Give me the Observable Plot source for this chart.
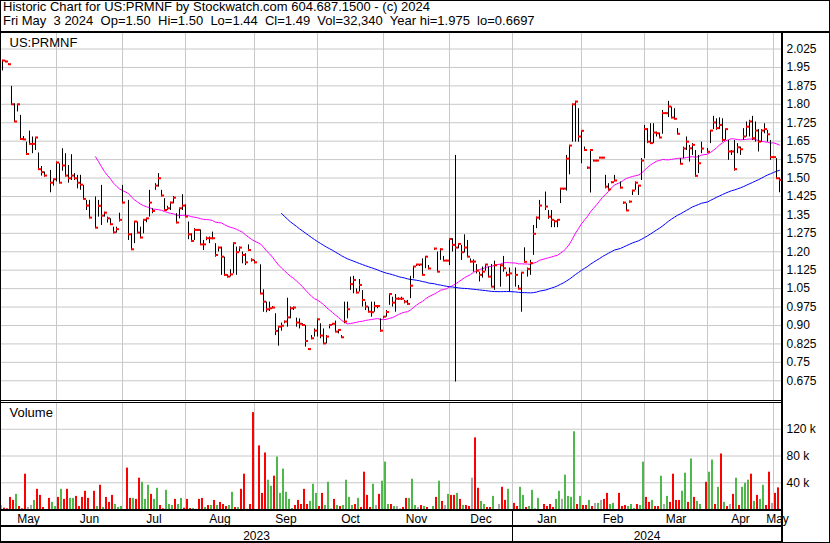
<!DOCTYPE html>
<html><head><meta charset="utf-8">
<script src="https://cdn.jsdelivr.net/npm/d3@7"></script>
<script src="https://cdn.jsdelivr.net/npm/@observablehq/plot@0.6"></script>
<style>
html,body{margin:0;padding:0;background:#fff;}
#wrap{position:relative;width:830px;height:543px;overflow:hidden;background:#fff;font-family:"Liberation Sans",Arial,sans-serif;color:#000;}
#hdr{position:absolute;left:3px;top:0px;font-size:13px;line-height:14px;white-space:pre;}
.pl{position:absolute;left:0;}
.ln{position:absolute;background:#000;}
#border{position:absolute;left:0;top:0;width:828px;height:541px;border:1px solid #000;}
</style></head><body>
<div id="wrap">
 <div id="hdr"></div>
 <div id="price" class="pl" style="top:33px"></div>
 <div id="vol" class="pl" style="top:402px"></div>
 <div class="ln" style="left:0;top:31px;width:830px;height:2px"></div>
 <div class="ln" style="left:781px;top:33px;width:2px;height:510px"></div>
 <div class="ln" style="left:0;top:400px;width:781px;height:1px"></div>
 <div class="ln" style="left:0;top:402px;width:781px;height:1px"></div>
 <div class="ln" style="left:0;top:509px;width:781px;height:2px"></div>
 <div class="ln" style="left:0;top:525px;width:781px;height:2px"></div>
 <div class="ln" style="left:0;top:541px;width:781px;height:2px"></div>
 <div id="ysep" class="ln" style="top:511px;width:1px;height:32px"></div>
 <div id="border"></div>
</div>
<script>
// ---- header texts ----
const titleLine = "Historic Chart for US:PRMNF by Stockwatch.com 604.687.1500 - (c) 2024";
const quoteLine = "Fri May  3 2024  Op=1.50  Hi=1.50  Lo=1.44  Cl=1.49  Vol=32,340  Year hi=1.975  lo=0.6697";
const symbolLabel = "US:PRMNF";
const volumeLabel = "Volume";

// ---- axis labels ----
const priceTickLabels = ["2.025","1.95","1.875","1.80","1.725","1.65","1.575","1.50","1.425","1.35","1.275","1.20","1.125","1.05","0.975","0.90","0.825","0.75","0.675"];
const volTicks = [40, 80, 120];
const monthNames = ["May","Jun","Jul","Aug","Sep","Oct","Nov","Dec","Jan","Feb","Mar","Apr","May"];
const monthStartK = [18,40,61,84,105,127,149,170,193,214,235,257]; // weekday slot of first day of each month
const yearNames = ["2023","2024"];
const yearStartK = [170];

// ---- daily bars (one slot per weekday from May 8 2023; null = no trading) ----
const hi = [
1.979,1.976,1.965,1.873,1.802,1.798,1.755,1.669,1.646,1.691,
1.667,1.664,1.602,1.547,1.524,null,1.531,1.493,1.565,1.558,
1.619,1.599,1.551,1.595,1.518,1.511,1.511,1.470,1.409,1.409,
null,1.423,1.409,1.470,1.361,1.341,1.334,1.300,1.300,1.357,
1.470,null,1.409,1.273,1.321,1.321,1.300,1.328,1.334,1.450,
1.375,1.477,1.518,1.450,1.416,1.385,1.402,1.425,1.355,1.375,
1.432,1.391,1.321,1.273,1.294,1.290,1.289,1.246,1.260,1.260,
1.280,1.233,1.219,1.219,1.178,1.106,1.127,1.235,1.219,1.219,
1.199,1.192,1.228,1.171,1.165,null,1.147,1.045,0.995,0.995,
0.977,0.948,0.893,0.910,0.918,1.011,0.975,0.975,0.930,0.927,
0.907,0.900,0.805,0.859,0.886,0.927,0.907,0.886,0.859,0.900,
0.907,0.918,0.882,0.859,0.995,0.995,1.097,1.100,1.049,1.087,
1.042,0.995,0.975,0.995,0.995,0.981,0.927,0.934,0.961,1.026,
1.015,1.026,1.012,1.015,1.002,1.002,1.100,1.140,1.148,1.148,
1.171,1.178,1.144,null,1.214,1.199,1.212,1.181,1.165,1.253,
1.253,1.592,1.233,1.226,1.269,1.246,1.171,1.167,1.148,1.117,
1.138,1.148,1.138,1.148,1.162,null,1.148,1.181,1.117,1.134,
null,1.134,1.063,1.114,1.216,1.134,1.165,1.307,1.341,1.409,
null,1.443,1.368,1.368,1.328,1.328,1.457,1.457,1.592,1.633,
1.800,1.812,1.782,1.690,1.626,1.545,1.612,1.572,1.572,1.584,
1.584,1.511,1.477,1.484,1.511,null,1.484,1.402,1.395,1.406,
1.450,1.484,1.470,1.579,1.714,1.701,1.721,1.721,1.687,1.683,
1.775,1.765,1.812,1.789,1.782,1.701,1.579,1.626,1.667,1.633,
1.640,1.612,1.592,1.646,null,1.620,1.691,1.751,1.741,1.745,
1.741,1.697,1.653,1.612,1.653,1.640,1.626,1.701,1.728,1.735,
1.751,1.728,1.697,1.697,1.721,1.694,1.653,1.586,1.579,1.500];
const lo = [
1.936,1.972,1.961,1.796,1.728,1.769,1.656,1.655,1.592,1.636,
1.599,1.612,1.531,1.508,1.504,null,1.440,1.467,1.484,1.477,
1.528,1.504,1.479,1.490,1.490,1.456,1.450,1.412,1.368,1.334,
null,1.294,1.341,1.307,1.341,1.317,1.307,1.273,1.276,1.321,
1.395,null,1.246,1.205,1.233,1.273,1.253,1.273,1.318,1.341,
1.355,1.450,1.463,1.423,1.368,1.368,1.368,1.395,1.314,1.334,
1.368,1.341,1.249,1.239,1.246,1.284,1.226,1.205,1.245,1.233,
1.249,1.178,1.199,1.104,1.100,1.094,1.097,1.110,1.104,1.199,
1.151,1.144,1.205,1.158,1.151,null,1.026,0.954,0.952,0.957,
0.968,0.859,0.816,0.877,0.907,0.893,0.927,0.961,0.893,0.886,
0.897,0.812,0.801,0.842,0.853,0.853,0.846,0.823,0.825,0.886,
0.900,0.873,0.866,0.848,0.907,0.927,1.043,1.029,1.029,1.036,
0.975,0.961,0.952,0.934,0.954,0.968,0.873,0.927,0.934,0.982,
0.975,0.954,1.003,1.002,0.988,0.982,1.009,1.090,1.140,1.140,
1.104,1.131,1.127,null,1.206,1.117,1.165,1.162,1.160,1.144,
1.199,0.670,1.212,1.165,1.195,1.178,1.155,1.117,1.110,1.077,
1.093,1.121,1.094,1.056,1.043,null,1.056,1.117,1.097,1.036,
null,1.056,1.046,0.954,1.154,1.097,1.104,1.185,1.294,1.328,
null,1.368,1.332,1.298,1.298,1.298,1.396,1.450,1.447,1.513,
1.646,1.646,1.646,1.558,1.612,1.535,1.439,1.566,1.566,1.578,
1.578,1.456,1.447,1.477,1.484,null,1.456,1.393,1.364,1.398,
1.429,1.450,1.429,1.490,1.579,1.640,1.640,1.640,1.667,1.660,
1.678,1.760,1.746,1.741,1.737,1.677,1.556,1.579,1.612,1.565,
1.592,1.504,1.518,1.599,null,1.600,1.640,1.697,1.694,1.697,
1.646,1.653,1.572,1.592,1.528,1.599,1.592,1.653,1.667,1.667,
1.653,1.646,1.606,1.646,1.680,1.646,1.572,1.579,1.497,1.440];
const cl = [
1.976,1.972,1.961,1.798,1.728,1.798,1.657,1.655,1.596,1.637,
1.637,1.663,1.534,1.522,1.508,null,1.479,1.493,1.561,1.479,
1.549,1.508,1.497,1.508,1.497,1.479,1.471,1.413,1.386,1.337,
null,1.296,1.385,1.345,1.357,1.334,1.310,1.277,1.290,1.328,
1.398,null,1.269,1.208,1.321,1.276,1.256,1.328,1.334,1.398,
1.364,1.467,1.497,1.427,1.368,1.375,1.398,1.418,1.317,1.375,
1.386,1.341,1.269,1.242,1.287,1.287,1.228,1.228,1.253,1.253,
1.253,1.185,1.215,1.178,1.104,1.097,1.106,1.233,1.196,1.215,
1.185,1.155,1.205,1.165,1.155,null,1.028,0.995,0.964,0.968,
0.971,0.876,0.893,0.897,0.914,0.931,0.968,0.971,0.910,0.905,
0.900,0.835,0.802,0.846,0.877,0.923,0.857,0.825,0.853,0.900,
0.905,0.873,0.880,0.850,0.914,0.964,1.066,1.083,1.032,1.063,
1.002,0.975,0.954,0.952,0.977,0.977,0.877,0.934,0.953,1.026,
0.991,1.007,1.007,1.007,0.995,0.986,1.060,1.138,1.146,1.146,
1.104,1.178,1.130,null,1.211,1.117,1.208,1.162,1.162,1.250,
1.226,1.215,1.230,1.196,1.215,1.178,1.158,1.158,1.121,1.104,
1.117,1.146,1.097,1.056,1.143,null,1.143,1.131,1.104,1.110,
null,1.104,1.048,1.113,1.157,1.128,1.152,1.271,1.337,1.386,
null,1.382,1.341,1.328,1.322,1.328,1.455,1.455,1.577,1.630,
1.798,1.809,1.667,1.690,1.612,1.540,1.612,1.569,1.569,1.581,
1.581,1.463,1.452,1.481,1.488,null,1.459,1.398,1.366,1.402,
1.447,1.479,1.467,1.569,1.697,1.646,1.640,1.683,1.680,1.663,
1.762,1.762,1.789,1.744,1.739,1.678,1.556,1.618,1.646,1.619,
1.633,1.507,1.558,1.618,null,1.605,1.691,1.724,1.701,1.714,
1.653,1.697,1.606,1.606,1.534,1.623,1.615,1.667,1.707,1.728,
1.660,1.691,1.646,1.691,1.697,1.676,1.583,1.583,1.497,1.490];
// volume in thousands of shares
const vol = [
6.0,2.0,1.0,18.1,13.6,22.6,4.5,1.0,52.8,3.0,
6.0,13.6,30.2,21.1,3.0,null,16.6,10.6,4.5,18.1,
30.2,15.1,30.2,16.6,16.6,19.6,4.5,18.1,27.2,16.6,
null,27.2,4.5,36.2,3.0,18.1,10.6,21.1,7.5,3.0,
4.5,null,61.9,16.6,16.6,15.1,46.8,40.7,15.1,36.2,
22.6,15.1,31.7,6.0,1.0,28.7,7.5,6.0,15.1,7.5,
16.6,2.0,15.1,1.5,1.5,0.5,15.1,16.6,3.0,6.0,
6.0,13.6,6.0,10.6,7.5,4.5,6.0,25.7,3.0,3.0,
30.2,52.8,0.5,7.5,144.9,null,95.1,24.1,84.5,43.8,
34.7,49.8,78.5,24.1,60.4,25.7,15.1,1.5,6.0,13.6,
7.5,30.2,7.5,12.1,37.7,24.1,4.5,24.1,6.0,40.7,
0.8,15.1,6.0,4.5,6.0,43.8,18.1,6.0,7.5,16.6,
3.0,55.8,21.1,3.0,37.7,6.0,22.6,42.3,70.9,7.5,
7.5,4.5,4.5,1.0,3.0,16.6,16.6,45.3,6.0,3.0,
6.0,4.5,3.0,null,4.5,18.1,42.3,12.1,6.0,22.6,
21.1,21.1,24.1,15.1,6.0,6.0,4.5,46.8,107.1,31.7,
12.1,7.5,3.0,3.0,19.6,null,7.5,33.2,13.6,30.2,
null,9.1,4.5,33.2,21.1,3.0,4.5,28.7,1.0,16.6,
null,7.5,4.5,7.5,3.0,15.1,27.2,15.1,51.3,19.6,
18.1,116.2,7.5,19.6,6.0,6.0,13.6,4.5,9.1,9.1,
13.6,15.1,24.1,7.5,9.1,null,24.1,4.5,6.0,4.5,
7.5,1.5,7.5,6.0,70.9,18.1,10.6,13.6,4.5,4.5,
49.8,7.5,19.6,10.6,52.8,13.6,13.6,27.2,54.3,10.6,
75.5,18.1,12.1,7.5,null,40.7,55.8,73.9,7.5,33.2,
83.0,10.6,4.5,7.5,22.6,46.8,6.0,33.2,39.2,43.8,
52.8,12.1,21.1,15.1,36.2,6.0,55.8,9.1,24.1,32.34];
// volume bar colour: r = down, g = up, n = unchanged, - = no trading
const volDir = [
"nrrrrgrrrn","ngrrr-rggr","grrggrrrrr","-rgrgrrrgg","g-rrgrrggg",
"rggrrgggrg","grrrgnrrgr","grgrrrggrg","rrgrr-rrrg","grggggggrr",
"rrrgggrrgg","grgrggggrg","rrrrgnrggg","rgnnrrgggn","rgr-grgrng",
"rrgrgrrnrr","ggrrg-nrrg","-rrggrgggg","-rrrrggngg","ggrgrrgrng",
"nrrgg-rrrg","ggrggrrgrr","gngrrrrggr","grgg-rggrg","rgrnrgrggg",
"rgrggrrnrr"].join("");

// ---- rows ----
const bars = [];
cl.forEach((c, k) => { if (c != null) bars.push({k, hi: hi[k], lo: lo[k], c}); });
const vrows = [];
vol.forEach((v, k) => { if (v != null) vrows.push({k, v, dir: volDir[k]}); });

const priceTicks = priceTickLabels.map(Number);
const priceLabelOf = new Map(priceTicks.map((t, i) => [t, priceTickLabels[i]]));

const xDomain = [-2/3, 779/3];
const monthBounds = [xDomain[0], ...monthStartK, xDomain[1]];
const months = monthNames.map((m, i) => ({m, x: (monthBounds[i] + monthBounds[i + 1]) / 2}));
const yearBounds = [xDomain[0], ...yearStartK, xDomain[1]];
const years = yearNames.map((y, i) => ({y, x: (yearBounds[i] + yearBounds[i + 1]) / 2}));

const font = '"Liberation Sans", Arial, sans-serif';
const grid = "#c8c8c8";
const colors = {r: "#ff0000", g: "#4fb84a", n: "#a8a8a8"};

document.getElementById("hdr").textContent = titleLine + "\n" + quoteLine;

const price = Plot.plot({
  width: 830, height: 367,
  marginLeft: 0, marginRight: 49, marginTop: 0, marginBottom: 0,
  x: {domain: xDomain, axis: null},
  y: {domain: [0.5948, 2.0881]},
  style: {fontFamily: font, fontSize: "12px", color: "#000", background: "#fff", overflow: "visible"},
  marks: [
    Plot.ruleY(priceTicks, {stroke: grid}),
    Plot.ruleX(monthStartK, {stroke: grid}),
    Plot.lineY(bars, Plot.windowY({k: 30, anchor: "end", strict: true, reduce: "mean"}, {x: "k", y: "c", stroke: "#ff00ff", strokeWidth: 1})),
    Plot.lineY(bars, Plot.windowY({k: 90, anchor: "end", strict: true, reduce: "mean"}, {x: "k", y: "c", stroke: "#0000ff", strokeWidth: 1})),
    Plot.ruleX(bars, {x: "k", y1: "lo", y2: "hi", stroke: "#000", strokeWidth: 1}),
    Plot.rect(bars, {x1: "k", x2: d => d.k + 1, y1: "c", y2: "c", insetTop: -1, insetBottom: -1, fill: "#ff0000"}),
    Plot.axisY(priceTicks, {anchor: "right", tickSize: 0, tickPadding: 5, label: null, tickFormat: d => priceLabelOf.get(d), fontSize: 12}),
    Plot.text([symbolLabel], {frameAnchor: "top-left", dx: 9, dy: 4, fontSize: 13})
  ]
});
document.getElementById("price").appendChild(price);

const volPlot = Plot.plot({
  width: 830, height: 141,
  marginLeft: 0, marginRight: 49, marginTop: 0, marginBottom: 34,
  x: {domain: xDomain, axis: null},
  y: {domain: [0, 160]},
  style: {fontFamily: font, fontSize: "12px", color: "#000", background: "#fff", overflow: "visible"},
  marks: [
    Plot.ruleY(volTicks, {stroke: grid}),
    Plot.ruleX(monthStartK, {stroke: grid}),
    ...Object.keys(colors).map(key =>
      Plot.rectY(vrows.filter(d => d.dir === key), {x1: d => d.k - 2/3, x2: "k", y: "v", fill: colors[key]})),
    Plot.axisY(volTicks, {anchor: "right", tickSize: 0, tickPadding: 5, label: null, tickFormat: d => d + " k", fontSize: 12}),
    Plot.text([volumeLabel], {frameAnchor: "top-left", dx: 9, dy: 5, fontSize: 13}),
    Plot.text(months, {x: "x", text: "m", frameAnchor: "bottom", lineAnchor: "bottom", dy: 13, fontSize: 12}),
    Plot.text(years, {x: "y" === "" ? null : "x", text: "y", frameAnchor: "bottom", lineAnchor: "bottom", dy: 30, fontSize: 12})
  ]
});
document.getElementById("vol").appendChild(volPlot);

const xs = volPlot.scale("x");
document.getElementById("ysep").style.left = Math.round(xs.apply(yearStartK[0])) + "px";
</script>
</body></html>
